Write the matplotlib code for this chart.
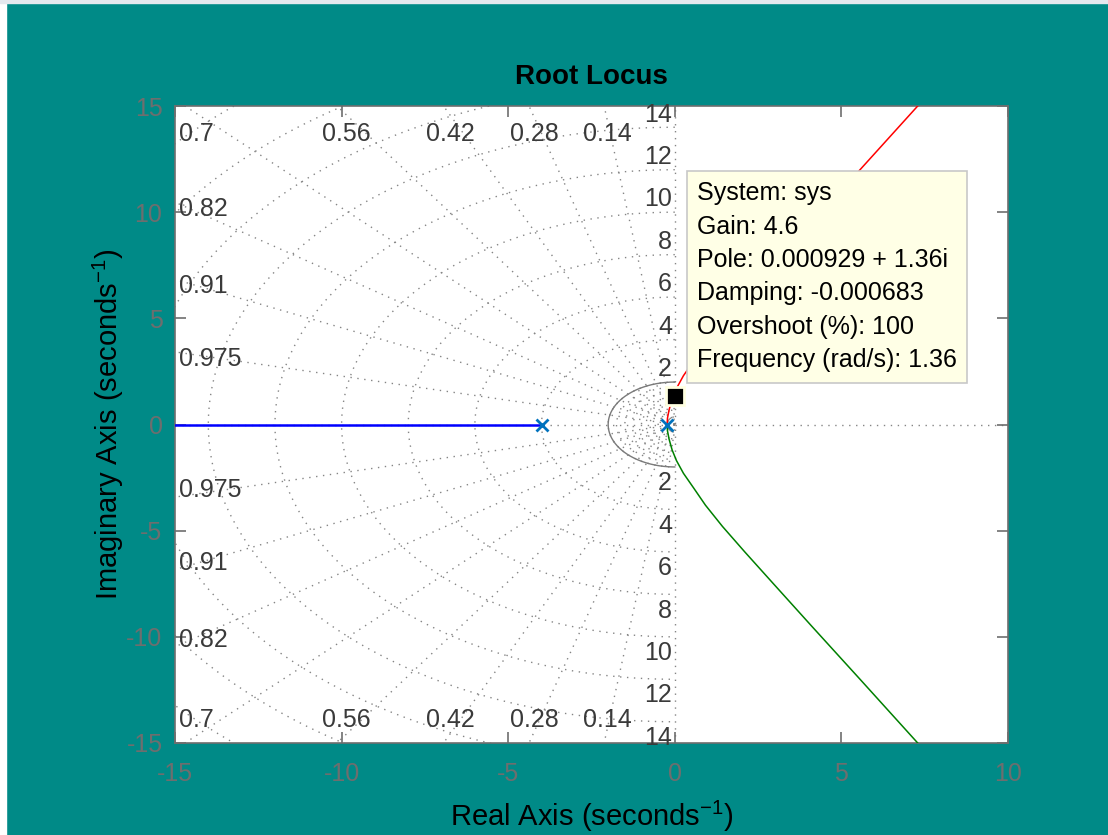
import numpy as np
import matplotlib
matplotlib.use("Agg")
import matplotlib.pyplot as plt
from matplotlib.patches import Rectangle

plt.rcParams['font.family'] = ['Liberation Sans', 'DejaVu Sans']
plt.rcParams['mathtext.default'] = 'regular'
plt.rcParams['axes.unicode_minus'] = False

# --- datos ---
zetas = [0.14, 0.28, 0.42, 0.56, 0.7, 0.82, 0.91, 0.975]
zeta_labels = ["0.14", "0.28", "0.42", "0.56", "0.7", "0.82", "0.91", "0.975"]
wn_vals = [2, 4, 6, 8, 10, 12, 14, 16, 18, 20, 22]
wn_inner = [0.25, 0.5, 0.75, 1.0, 1.25, 1.5, 1.75]

poles_x = [-4.0, -0.23]
poles_y = [0.0, 0.0]

# rama azul (eje real)
blue_x = [-4.0, -16.0]
blue_y = [0.0, 0.0]

# rama verde (hacia abajo)
green_x = [-0.23, -0.22, -0.17, -0.08, 0.05, 0.26, 0.57, 0.92, 1.43, 2.10, 2.96, 4.11, 5.56, 7.29, 7.86]
green_y = [0.0, -0.3, -0.7, -1.2, -1.7, -2.3, -3.0, -3.8, -4.8, -6.0, -7.5, -9.5, -12.0, -15.0, -16.0]

# rama roja (hacia arriba)
red_x = [-0.23, -0.22, -0.17, -0.08, 0.05, 0.26, 0.57, 0.92, 1.43, 2.10, 2.96, 4.11, 5.56, 7.29, 7.86]
red_y = [0.0, 0.3, 0.7, 1.2, 1.7, 2.3, 3.0, 3.8, 4.8, 6.0, 7.5, 9.5, 12.0, 15.0, 16.0]

tip_x, tip_y = 0.000929, 1.36
tip_lines = ["System: sys", "Gain: 4.6", "Pole: 0.000929 + 1.36i",
             "Damping: -0.000683", "Overshoot (%): 100", "Frequency (rad/s): 1.36"]

xticks = [-15, -10, -5, 0, 5, 10]
yticks = [-15, -10, -5, 0, 5, 10, 15]

# --- figura ---
fig = plt.figure(figsize=(11.08, 8.35), dpi=100, facecolor='#008a87')
fig.patches.append(Rectangle((0, 0), 6 / 1108, 1, transform=fig.transFigure, color='white', zorder=-1))
fig.patches.append(Rectangle((0, 1 - 3 / 835), 1, 3 / 835, transform=fig.transFigure, color='#e4e8ee', zorder=-1))
ax = fig.add_axes([175 / 1108, 92 / 835, 833 / 1108, 637 / 835])
ax.set_xlim(-15, 10)
ax.set_ylim(-15, 15)

gc = '#858585'
lc = '#3a3a3a'
dots = (0, (1, 4))
fs = 18
t = np.linspace(np.pi / 2, 3 * np.pi / 2, 400)

# circulos de frecuencia natural
for r in wn_vals:
    ax.plot(r * np.cos(t), r * np.sin(t), ls=dots, color=gc, lw=1.0, zorder=1)
    if r <= 14:
        ax.annotate(str(r), (0, r), xytext=(-2, 0.5), textcoords='offset points',
                    ha='right', va='bottom', fontsize=fs, color=lc)
        ax.annotate(str(r), (0, -r), xytext=(-2, -3), textcoords='offset points',
                    ha='right', va='top', fontsize=fs, color=lc)
for r in wn_inner:
    ax.plot(r * np.cos(t), r * np.sin(t), ls=dots, color=gc, lw=1.0, zorder=1)
ax.plot(2 * np.cos(t), 2 * np.sin(t), '-', color='#7a7a7a', lw=1.0, zorder=1)

# lineas de amortiguamiento
for z, lab in zip(zetas, zeta_labels):
    ang = np.arccos(z)
    dx, dy = -np.cos(ang), np.sin(ang)
    for s in (1, -1):
        ax.plot([0, 30 * dx], [0, 30 * s * dy], ls=dots, color=gc, lw=1.0, zorder=1)
    if dy / -dx * 15 > 15:
        xe = 15 * dx / dy
        for s, off in ((1, -20), (-1, 16.5)):
            ax.annotate(lab, (xe, s * 15), xytext=(10 * z + 1, off), textcoords='offset points',
                        ha='center', va='center', fontsize=fs, color=lc)
    else:
        ye = 15 * dy / -dx
        for s in (1, -1):
            ax.annotate(lab, (-15, s * ye), xytext=(3, -5 * s), textcoords='offset points',
                        ha='left', va='center', fontsize=fs, color=lc)

ax.axhline(0, color=gc, ls=dots, lw=1.0, zorder=1)
ax.axvline(0, color=gc, ls=dots, lw=1.0, zorder=1)

# ramas del lugar de las raices
ax.plot(blue_x, blue_y, color='#0000ff', lw=1.8, zorder=3)
ax.plot(green_x, green_y, color='#008000', lw=1.1, zorder=3)
ax.plot(red_x, red_y, color='#ff0000', lw=1.1, zorder=3)
ax.plot(poles_x, poles_y, 'x', color='#0072bd', ms=9, mew=2, zorder=4)

# marcador del datatip
ax.plot([tip_x], [tip_y], 's', color='black', ms=13, mec='#ffffe1', mew=2, zorder=5)
ax.annotate("\n".join(tip_lines), (tip_x, tip_y), xytext=(16, 17), textcoords='offset points',
            ha='left', va='bottom', fontsize=fs, color='black', linespacing=1.49,
            bbox=dict(boxstyle='square,pad=0.42', fc='#ffffe6', ec='#c8c8c8', lw=1.2), zorder=6)

# ejes estilo MATLAB
ax.set_xticks(xticks)
ax.set_yticks(yticks)
ax.tick_params(direction='in', length=8, width=1.2, colors='#6e6e6e', labelsize=18,
               top=True, right=True)
ax.tick_params(axis='x', pad=14)
ax.tick_params(axis='y', pad=9)
for sp in ax.spines.values():
    sp.set_color('#6e6e6e')
    sp.set_linewidth(1.2)
ax.set_title("Root Locus", fontsize=20, fontweight='bold', pad=16)
ax.set_xlabel("Real Axis (seconds$^{-1}$)", fontsize=21, labelpad=9)
ax.set_ylabel("Imaginary Axis (seconds$^{-1}$)", fontsize=21, labelpad=0.5)

fig.savefig("out.png", dpi=100, facecolor=fig.get_facecolor())
